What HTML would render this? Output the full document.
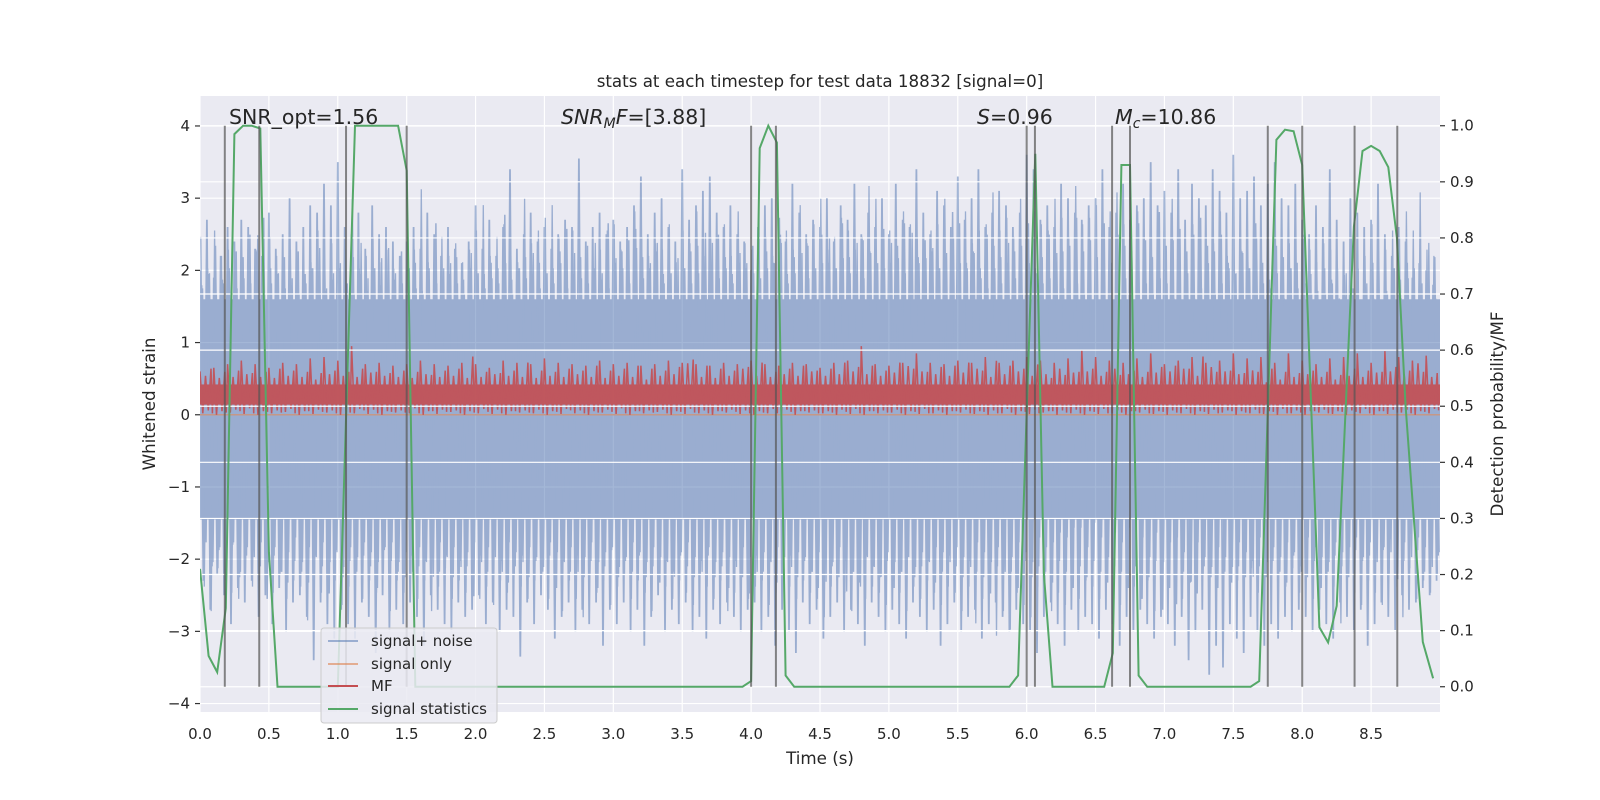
<!DOCTYPE html>
<html><head><meta charset="utf-8"><style>
html,body{margin:0;padding:0;background:#fff;}
svg{display:block;font-family:"DejaVu Sans","Liberation Sans",sans-serif;}
</style></head><body>
<svg id="chart" width="1600" height="800" viewBox="0 0 1600 800" xmlns="http://www.w3.org/2000/svg"></svg>
<script>
// ---- data ----
const noiseHi = [2.0,2.7,1.9,2.2,2.6,2.4,2.7,2.6,2.3,2.2,2.8,2.3,2.5,3.0,2.4,2.6,2.9,2.8,3.2,2.9,
3.5,2.6,2.5,2.8,2.3,2.9,2.5,2.6,2.4,2.2,2.4,2.6,2.3,2.8,2.5,2.2,2.6,2.3,2.1,2.4,
2.9,2.3,2.7,2.2,2.6,3.4,2.3,2.5,2.8,2.4,2.6,2.3,2.5,2.7,2.6,3.55,2.4,2.6,2.8,2.5,
2.7,2.4,2.6,2.9,3.3,2.5,2.8,3.0,2.6,2.4,3.4,2.7,2.9,3.1,3.3,2.8,2.6,2.9,2.5,2.4,
2.0,2.6,2.9,3.0,2.6,2.4,3.2,2.8,2.5,2.7,2.6,3.0,2.4,2.9,2.7,3.2,2.5,2.8,2.6,3.0,
2.5,3.2,2.7,2.6,3.4,2.8,2.5,3.1,2.9,2.6,3.3,2.7,3.0,3.4,2.6,2.8,3.1,2.9,2.6,2.8,
3.6,3.4,2.7,2.9,2.6,3.2,3.0,2.8,2.7,2.9,3.0,3.4,2.6,2.8,3.2,2.7,2.9,3.0,3.5,2.9,
3.1,2.8,3.4,2.7,3.2,3.0,2.9,3.4,3.1,2.8,3.6,3.0,3.1,3.3,2.9,3.2,3.5,3.0,2.9,3.2,
2.7,2.5,2.9,2.6,3.4,2.7,2.4,3.0,2.8,2.6,2.7,3.2,2.5,2.2,2.6,2.4,1.9,2.1,2.0,1.8];
const noiseLo = [-2.3,-2.7,-2.2,-2.5,-2.9,-2.4,-2.6,-2.3,-2.8,-2.5,-2.9,-2.4,-3.0,-2.6,-2.5,-2.8,-3.4,-2.6,-2.9,-3.1,
-2.7,-2.9,-3.1,-2.6,-2.8,-3.3,-2.5,-3.0,-2.7,-2.9,-2.6,-2.8,-3.2,-2.5,-2.7,-2.9,-3.0,-2.6,-2.8,-2.7,
-2.5,-2.9,-2.6,-3.0,-2.7,-2.8,-3.35,-2.6,-2.9,-2.5,-2.7,-3.1,-2.8,-2.6,-3.0,-2.7,-2.9,-2.6,-3.2,-2.7,
-2.9,-2.6,-3.0,-2.7,-3.2,-2.8,-2.5,-3.0,-2.7,-2.9,-2.6,-3.0,-2.8,-3.1,-2.7,-2.9,-2.6,-2.8,-3.0,-2.7,
-2.6,-3.0,-2.8,-3.2,-2.7,-3.0,-3.3,-2.6,-2.9,-2.7,-3.1,-2.8,-2.6,-3.0,-2.7,-2.9,-3.2,-2.6,-2.8,-3.0,
-2.7,-2.9,-3.1,-2.6,-2.8,-3.0,-2.7,-3.2,-2.9,-2.6,-3.0,-2.8,-2.7,-3.1,-2.9,-2.6,-2.8,-3.0,-2.7,-2.9,
-3.0,-3.3,-2.8,-2.6,-2.9,-3.2,-2.7,-3.0,-2.8,-2.9,-3.1,-2.7,-2.9,-3.2,-2.8,-3.0,-2.7,-2.9,-3.1,-2.8,
-2.9,-3.2,-2.8,-3.4,-3.0,-2.7,-3.6,-3.2,-3.5,-2.9,-3.1,-3.3,-2.8,-3.0,-3.2,-2.9,-3.1,-2.8,-3.0,-2.7,
-2.8,-3.0,-2.7,-2.9,-3.1,-2.6,-2.8,-3.0,-2.7,-3.2,-2.9,-2.6,-2.8,-3.0,-2.5,-2.7,-2.6,-2.4,-2.5,-2.3];
const mfHi = [0.6,0.65,0.7,0.75,0.7,0.65,0.72,0.7,0.78,0.8,0.75,0.95,0.7,0.72,0.68,0.7,0.75,0.7,0.68,0.72,
0.7,0.65,0.75,0.72,0.7,0.78,0.72,0.7,0.68,0.75,0.7,0.72,0.68,0.7,0.75,0.72,0.7,0.68,0.72,0.7,
0.75,0.7,0.68,0.72,0.7,0.65,0.72,0.75,0.95,0.7,0.68,0.72,0.85,0.72,0.7,0.75,0.72,0.8,0.72,0.75,
0.8,0.75,0.72,0.78,0.9,0.8,0.75,0.72,0.78,0.85,0.7,0.75,0.8,0.72,0.75,0.85,0.78,0.8,0.72,0.85,
0.75,0.7,0.78,0.8,0.85,0.72,0.88,0.8,0.75,0.82];
const mfLo = [0.02,0.0,0.03,0.01,0.0,0.02,0.04,0.0,0.01,0.03,0.0,0.02,0.01,0.0,0.03,0.02,0.0,0.01,0.04,0.0,
0.02,0.01,0.0,0.03,0.02,0.0,0.01,0.02,0.0,0.03,0.01,0.0,0.02,0.04,0.0,0.01,0.02,0.0,0.03,0.01,
0.0,0.02,0.01,0.0,0.03,0.02,0.0,0.01,0.0,0.02,0.03,0.0,0.01,0.02,0.0,0.03,0.01,0.0,0.02,0.0,
0.01,0.03,0.0,0.02,0.0,0.01,0.02,0.0,0.03,0.01,0.0,0.02,0.0,0.01,0.03,0.0,0.02,0.01,0.0,0.02,
0.0,0.03,0.01,0.0,0.02,0.0,0.01,0.03,0.0,0.02];
const statT = [0,0.0625,0.125,0.1875,0.25,0.3125,0.375,0.4375,0.5,0.5625,1.0,1.0625,1.125,1.4375,1.5,1.5625,
3.9375,4.0,4.0625,4.125,4.1875,4.25,4.3125,5.875,5.9375,6.0,6.0625,6.125,6.1875,6.5625,6.625,6.6875,6.75,6.8125,6.875,
7.625,7.6875,7.8125,7.875,7.9375,8.0,8.125,8.1875,8.25,8.375,8.4375,8.5,8.5625,8.625,8.6875,8.75,8.875,8.95];
const statV = [0.21,0.055,0.026,0.14,0.985,1.0,1.0,0.995,0.24,0.0,0.0,0.5,1.0,1.0,0.92,0.0,
0.0,0.01,0.96,1.0,0.97,0.02,0.0,0.0,0.02,0.49,0.95,0.2,0.0,0.0,0.06,0.93,0.93,0.02,0.0,
0.0,0.01,0.975,0.993,0.99,0.93,0.106,0.079,0.144,0.82,0.955,0.964,0.955,0.926,0.8,0.5,0.08,0.015];
const vlineT = [0.18,0.43,1.06,1.5,4.0,4.18,6.0,6.06,6.62,6.75,7.75,8.0,8.38,8.69];
const xTicks = [0,0.5,1,1.5,2,2.5,3,3.5,4,4.5,5,5.5,6,6.5,7,7.5,8,8.5];
const yTicksL = [-4,-3,-2,-1,0,1,2,3,4];
const yTicksR = [0,0.1,0.2,0.3,0.4,0.5,0.6,0.7,0.8,0.9,1.0];

// ---- axes ----
const X0=200, X1=1440, Y0=96, Y1=712;
const TMAX=9.0;
const x = t => X0 + t*(X1-X0)/TMAX;
const yL = v => Y0 + (4.415-v)*72.2;
const yR = v => Y0 + (1.053-v)*561;
const NS="http://www.w3.org/2000/svg";
const svg=document.getElementById('chart');
function mk(tag, attrs, parent){const e=document.createElementNS(NS,tag);for(const k in attrs)e.setAttribute(k,attrs[k]);(parent||svg).appendChild(e);return e;}

const bg=mk('rect',{x:X0,y:Y0,width:X1-X0,height:Y1-Y0,fill:'#eaeaf2'});


const clip=mk('clipPath',{id:'pc'});mk('rect',{x:X0,y:Y0,width:X1-X0,height:Y1-Y0},clip);

// left grid
const gL=mk('g',{stroke:'#fff','stroke-width':1.2});


xTicks.forEach(t=>mk('line',{x1:x(t),x2:x(t),y1:Y0,y2:Y1},gL));
yTicksL.forEach(v=>mk('line',{x1:X0,x2:X1,y1:yL(v),y2:yL(v)},gL));

const plot=mk('g',{'clip-path':'url(#pc)'});
// noise
const gN=mk('g',{opacity:0.5},plot);


mk('rect',{x:X0,y:yL(1.6),width:X1-X0,height:yL(-1.45)-yL(1.6),fill:'#4c72b0'},gN);
function zig(off, kHi, kLo, sh1, sh2, sw){
  let d='';
  noiseHi.forEach((h,i)=>{const t=i*0.05+off;
    d+=(i?'L':'M')+x(t).toFixed(1)+' '+yL(noiseHi[(i+sh1)%noiseHi.length]*kHi).toFixed(1)+'L'+x(t+0.025).toFixed(1)+' '+yL(noiseLo[(i+sh2)%noiseLo.length]*kLo).toFixed(1);});
  mk('path',{d:d,fill:'none',stroke:'#4c72b0','stroke-width':sw},gN);
}
zig(0,1,1,0,0,1.8);
zig(0.0125,0.78,0.75,11,7,1.5);
zig(0.006,0.88,0.85,23,31,1.3);
zig(0.019,0.7,0.68,47,53,1.3);

// signal only
const so=mk('line',{x1:X0,x2:X1,y1:yL(0),y2:yL(0),stroke:'#dd8452','stroke-width':1.5,opacity:0.6},plot);



// MF
const gM=mk('g',{opacity:0.9},plot);


mk('rect',{x:X0,y:yL(0.42),width:X1-X0,height:yL(0.14)-yL(0.42),fill:'#c44e52'},gM);
let d3='';
mfHi.forEach((h,i)=>{const t=i*0.1;d3+=(i?'L':'M')+x(t).toFixed(1)+' '+yL(h).toFixed(1)+'L'+x(t+0.02).toFixed(1)+' '+yL(mfLo[i]).toFixed(1)+'L'+x(t+0.04).toFixed(1)+' '+yL(mfHi[(i+13)%mfHi.length]*0.75).toFixed(1)+'L'+x(t+0.06).toFixed(1)+' '+yL(mfLo[(i+3)%mfLo.length]+0.05).toFixed(1)+'L'+x(t+0.08).toFixed(1)+' '+yL(mfHi[(i+29)%mfHi.length]*0.85).toFixed(1)+'L'+x(t+0.09).toFixed(1)+' '+yL(mfLo[(i+7)%mfLo.length]+0.02).toFixed(1);});
mk('path',{d:d3,fill:'none',stroke:'#c44e52','stroke-width':1.5},gM);

// right grid (drawn on top of left artists)
const gR=mk('g',{stroke:'#fff','stroke-width':1.2});


yTicksR.forEach(v=>mk('line',{x1:X0,x2:X1,y1:yR(v),y2:yR(v)},gR));

// green stats
const plot2=mk('g',{'clip-path':'url(#pc)'});
const st=mk('polyline',{points:statT.map((t,i)=>x(t).toFixed(1)+','+yR(statV[i]).toFixed(1)).join(' '),fill:'none',stroke:'#55a868','stroke-width':2},plot2);


vlineT.forEach(t=>{const l=mk('line',{x1:x(t),x2:x(t),y1:yR(0),y2:yR(1),stroke:'#555','stroke-width':2,opacity:0.7},plot2);

});

// ticks
const tk=mk('g',{'font-size':'15px',fill:'#262626'});
xTicks.forEach(t=>{const e=mk('text',{x:x(t),y:Y1+27,'text-anchor':'middle'},tk);e.textContent=t.toFixed(1);

});
yTicksL.forEach(v=>{mk('line',{x1:X0-5,x2:X0,y1:yL(v),y2:yL(v),stroke:'#333','stroke-width':1.2},tk);
const e=mk('text',{x:X0-10,y:yL(v)+5,'text-anchor':'end'},tk);e.textContent=v<0?'\u2212'+(-v):String(v);

});
yTicksR.forEach(v=>{mk('line',{x1:X1,x2:X1+5,y1:yR(v),y2:yR(v),stroke:'#333','stroke-width':1.2},tk);
const e=mk('text',{x:X1+10,y:yR(v)+5,'text-anchor':'start'},tk);e.textContent=v.toFixed(1);

});
</script>
<script>
const s=document.getElementById('chart');
s.insertAdjacentHTML('beforeend',`
<text x="820" y="87" text-anchor="middle" font-size="16.7" fill="#262626">stats at each timestep for test data 18832 [signal=0]</text>
<text x="820" y="764" text-anchor="middle" font-size="16.7" fill="#262626">Time (s)</text>
<text transform="translate(155,404) rotate(-90)" text-anchor="middle" font-size="16.7" fill="#262626">Whitened strain</text>
<text transform="translate(1503,414) rotate(-90)" text-anchor="middle" font-size="16.7" fill="#262626">Detection probability/MF</text>
<text x="229" y="124" font-size="20.5" fill="#262626">SNR_opt=1.56</text>
<text x="561" y="124" font-size="20.5" fill="#262626"><tspan font-style="italic">SNR</tspan><tspan font-style="italic" font-size="14" dy="4">M</tspan><tspan font-style="italic" dy="-4">F</tspan>=[3.88]</text>
<text x="977" y="124" font-size="20.5" fill="#262626"><tspan font-style="italic">S</tspan>=0.96</text>
<text x="1115" y="124" font-size="20.5" fill="#262626"><tspan font-style="italic">M</tspan><tspan font-style="italic" font-size="14" dy="4">c</tspan><tspan dy="-4">=10.86</tspan></text>
<g>
<rect x="321" y="628" width="176" height="95" rx="3" fill="#eaeaf2" fill-opacity="0.85" stroke="#cccccc"/>
<g><line x1="328" x2="358" y1="641" y2="641" stroke="#4c72b0" stroke-opacity="0.5" stroke-width="2"/><text x="371" y="646" font-size="15" fill="#262626">signal+ noise</text></g>
<g><line x1="328" x2="358" y1="664" y2="664" stroke="#dd8452" stroke-opacity="0.6" stroke-width="2"/><text x="371" y="669" font-size="15" fill="#262626">signal only</text></g>
<g><line x1="328" x2="358" y1="686" y2="686" stroke="#c44e52" stroke-width="2"/><text x="371" y="691" font-size="15" fill="#262626">MF</text></g>
<g><line x1="328" x2="358" y1="709" y2="709" stroke="#55a868" stroke-width="2"/><text x="371" y="714" font-size="15" fill="#262626">signal statistics</text></g>
</g>`);
</script>
</body></html>
